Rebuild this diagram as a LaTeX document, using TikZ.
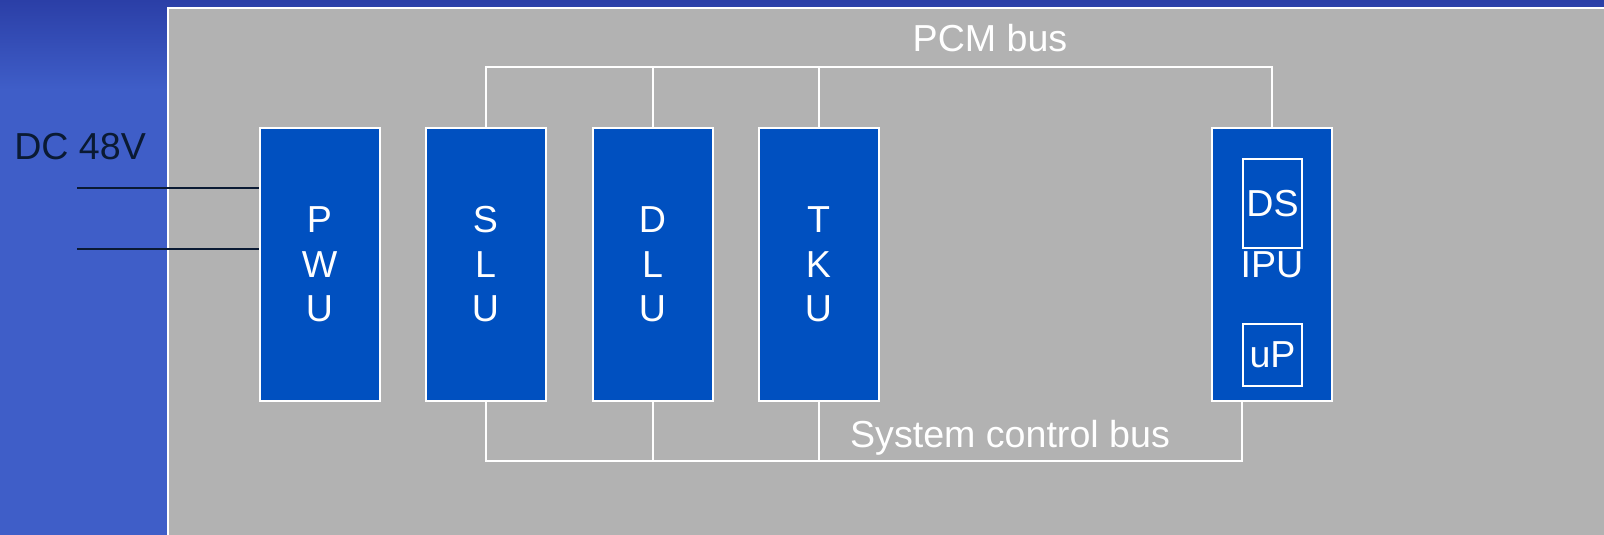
\documentclass[tikz,border=0pt]{standalone}
\usepackage{fontspec}
\setmainfont{Liberation Sans}
\usetikzlibrary{positioning}
\definecolor{bgblue}{HTML}{3F5EC8}
\definecolor{bgtop}{HTML}{2B3FA7}
\definecolor{panelgrey}{HTML}{B2B2B2}
\definecolor{unitblue}{HTML}{0050C0}
\definecolor{wirenavy}{HTML}{0A1A33}
\begin{document}
\begin{tikzpicture}[x=0.75pt,y=0.75pt,yscale=-1,xscale=1]
  \tikzstyle{unit} = [draw=white,line width=1.5pt,fill=unitblue,text=white,align=center,
    minimum width=90pt,minimum height=204pt,inner sep=0pt,font=\fontsize{28.2}{33.4}\selectfont]
  \tikzstyle{chip} = [unit,minimum width=44.25pt]
  \tikzstyle{bus} = [draw=white,line width=1.5pt]
  \tikzstyle{wire} = [draw=wirenavy,line width=1.5pt]
  \tikzstyle{lbl} = [inner sep=0pt,anchor=base,font=\fontsize{28.2}{33.4}\selectfont]
  \useasboundingbox (0,0) rectangle (1604,535);
  \clip (0,0) rectangle (1604,535);
  %Draw the background and the panel
  \fill[bgblue] (0,0) rectangle (1604,535);
  \shade[top color=bgtop,bottom color=bgblue] (0,0) rectangle (1604,90);
  \filldraw[fill=panelgrey,draw=white,line width=1.5pt] (168,8) rectangle (1640,570);

  %Draw the units
  \node[unit] (pwu) at (319.5,264.5) {P\\W\\U};
  \node[unit] (slu) at (485.5,264.5) {S\\L\\U};
  \node[unit] (dlu) at (652.5,264.5) {D\\L\\U};
  \node[unit] (tku) at (818.5,264.5) {T\\K\\U};
  \node[unit] (ipu) at (1272,264.5) {IPU};
  \node[chip,minimum height=66.75pt] (ds) at (1272.5,203.5) {DS};
  \node[chip,minimum height=46.5pt] (up) at (1272.5,355) {uP};

  %Draw the buses
  \coordinate (pcmrail) at (0,67);
  \coordinate (ctrlrail) at (0,461);
  \draw[bus] (slu.north) |- (ipu.north |- pcmrail) -- (ipu.north);
  \draw[bus] (dlu.north) -- (dlu.north |- pcmrail);
  \draw[bus] (tku.north) -- (tku.north |- pcmrail);
  \draw[bus] (slu.south) |- (up.west |- ctrlrail) -- (up.west |- ipu.south);
  \draw[bus] (dlu.south) -- (dlu.south |- ctrlrail);
  \draw[bus] (tku.south) -- (tku.south |- ctrlrail);

  %Draw the supply wires
  \coordinate (dca) at (77,188);
  \coordinate (dcb) at (77,249);
  \draw[wire] (dca) -- (dca -| pwu.west);
  \draw[wire] (dcb) -- (dcb -| pwu.west);

  % Label the buses and the supply
  \node[lbl,text=white] (pcmlabel) at (990,52) {PCM bus};
  \node[lbl,text=white] (ctrllabel) at (1010,447) {System control bus};
  \node[lbl,text=wirenavy,anchor=base west] (dclabel) at (14,159) {DC 48V};
\end{tikzpicture}
\end{document}
